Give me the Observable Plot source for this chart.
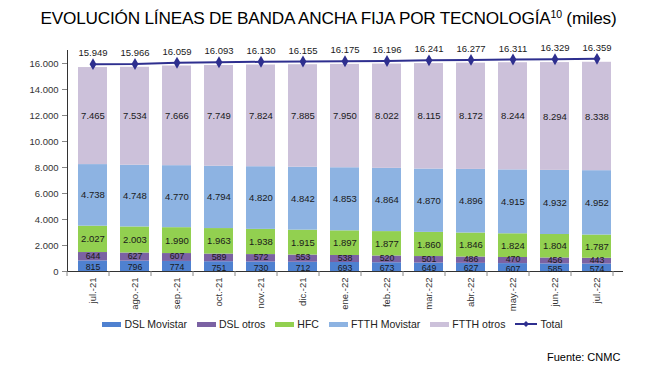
<!DOCTYPE html>
<html>
<head>
<meta charset="utf-8">
<script src="https://cdn.jsdelivr.net/npm/d3@7"></script>
<script src="https://cdn.jsdelivr.net/npm/@observablehq/plot@0.6"></script>
<style>
  body { margin: 0; background: #fff; font-family: "Liberation Sans", Arial, sans-serif; }
  #wrap { position: relative; width: 657px; height: 375px; overflow: hidden; }
  #title { position: absolute; left: 0; width: 657px; top: 8px; text-align: center; font-size: 17.2px; color: #000; letter-spacing: -0.2px; }
  #title sup { font-size: 10.5px; vertical-align: 6px; line-height: 0; }
  #chart { position: absolute; left: 0; top: 36px; }
  #legend { position: absolute; top: 318px; left: 0; width: 657px; display: flex; justify-content: center; font-size: 10.5px; color: #222; padding-left: 18px; box-sizing: border-box; }
  .item { display: flex; align-items: center; margin-right: 10px; }
  .sw { width: 19px; height: 5px; margin-right: 3px; }
  #source { position: absolute; top: 351px; left: 547px; font-size: 11px; color: #000; }
</style>
</head>
<body>
<div id="wrap">
  <div id="title">EVOLUCIÓN LÍNEAS DE BANDA ANCHA FIJA POR TECNOLOGÍA<sup>10</sup> (miles)</div>
  <div id="chart"></div>
  <div id="legend"></div>
  <div id="source">Fuente: CNMC</div>
</div>
<script>
const months = ["jul.-21","ago.-21","sep.-21","oct.-21","nov.-21","dic.-21","ene.-22","feb.-22","mar.-22","abr.-22","may.-22","jun.-22","jul.-22"];
const dslMovistar = [815,796,774,751,730,712,693,673,649,627,607,585,574];
const dslOtros = [644,627,607,589,572,553,538,520,501,486,470,456,443];
const hfc = [2027,2003,1990,1963,1938,1915,1897,1877,1860,1846,1824,1804,1787];
const ftthMovistar = [4738,4748,4770,4794,4820,4842,4853,4864,4870,4896,4915,4932,4952];
const ftthOtros = [7465,7534,7666,7749,7824,7885,7950,8022,8115,8172,8244,8294,8338];
const total = [15949,15966,16059,16093,16130,16155,16175,16196,16241,16277,16311,16329,16359];
const yTicks = [0,2000,4000,6000,8000,10000,12000,14000,16000];

const seriesNames = ["DSL Movistar","DSL otros","HFC","FTTH Movistar","FTTH otros"];
const seriesValues = [dslMovistar, dslOtros, hfc, ftthMovistar, ftthOtros];
const seriesColors = ["#4f81d0","#7b62a3","#92d050","#8db3e2","#ccc1da"];
const totalColor = "#2e2f8f";

const loc = d3.formatLocale({decimal: ",", thousands: ".", grouping: [3], currency: ["", "€"]});
const fmt = loc.format(",d");

const stacked = [];
seriesNames.forEach((s, si) => months.forEach((m, i) => stacked.push({month: m, series: s, value: seriesValues[si][i]})));
const totals = months.map((m, i) => ({month: m, total: total[i]}));

const stackOpts = {x: "month", y: "value", z: "series", order: seriesNames};
const labelIf = (pred) => (d) => pred(d) ? fmt(d.value) : "";
const plot = Plot.plot({
  width: 657,
  height: 275,
  marginLeft: 67,
  marginRight: 35,
  marginTop: 14,
  marginBottom: 40,
  style: {fontFamily: "Liberation Sans, Arial, sans-serif", fontSize: "9.5px", color: "#333", background: "transparent"},
  x: {domain: months, paddingInner: 0.32, paddingOuter: 0.16, label: null, tickSize: 0, tickRotate: -90, tickPadding: 6, line: true},
  y: {domain: [0, 17000], ticks: yTicks, tickFormat: fmt, label: null, tickSize: 5, tickPadding: 4, line: true},
  color: {domain: seriesNames, range: seriesColors},
  marks: [
    Plot.barY(stacked, {x: "month", y: "value", fill: "series", order: seriesNames}),
    Plot.text(stacked, Plot.stackY({...stackOpts, text: labelIf(d => d.series === "DSL Movistar"), fill: "#1a1a1a", fontSize: 8.8, dy: 1.2})),
    Plot.text(stacked, Plot.stackY({...stackOpts, text: labelIf(d => d.series === "DSL otros"), fill: "#1a1a1a", fontSize: 8.8, dy: -1})),
    Plot.text(stacked, Plot.stackY({...stackOpts, text: labelIf(d => !d.series.startsWith("DSL")), fill: "#1a1a1a", fontSize: 9.5})),
    Plot.line(totals, {x: "month", y: "total", stroke: totalColor, strokeWidth: 2}),
    Plot.dot(totals, {x: "month", y: "total", symbol: "diamond", r: 3.6, fill: totalColor, stroke: "none"}),
    Plot.text(totals, {x: "month", y: "total", text: d => fmt(d.total), dy: -11, fill: "#1a1a1a", fontSize: 9.5})
  ]
});

// axis styling & boundary ticks (Excel style) from the x scale
const svg = d3.select(plot);
svg.selectAll("[aria-label='x-axis line'], [aria-label='y-axis line']").attr("stroke", "#888");
svg.selectAll("[aria-label='y-axis tick']").attr("stroke", "#888");
const xs = plot.scale("x");
const ys = plot.scale("y");
const step = xs.step;
const y0 = ys.apply(0);
const g = svg.append("g").attr("stroke", "#888");
for (let i = 0; i <= months.length; i++) {
  const xb = xs.range[0] + i * step;
  g.append("line").attr("x1", xb).attr("x2", xb).attr("y1", y0).attr("y2", y0 + 5);
}
document.getElementById("chart").appendChild(plot);

// legend
const legend = document.getElementById("legend");
seriesNames.forEach((s, i) => {
  const it = document.createElement("div");
  it.className = "item";
  it.innerHTML = `<span class="sw" style="background:${seriesColors[i]}"></span><span>${s}</span>`;
  legend.appendChild(it);
});
const tot = document.createElement("div");
tot.className = "item";
tot.innerHTML = `<svg width="22" height="8" style="margin-right:3px"><line x1="0" x2="22" y1="4" y2="4" stroke="${totalColor}" stroke-width="2"/><path d="M11,1 L14,4 L11,7 L8,4Z" fill="${totalColor}"/></svg><span>Total</span>`;
legend.appendChild(tot);
</script>
</body>
</html>
